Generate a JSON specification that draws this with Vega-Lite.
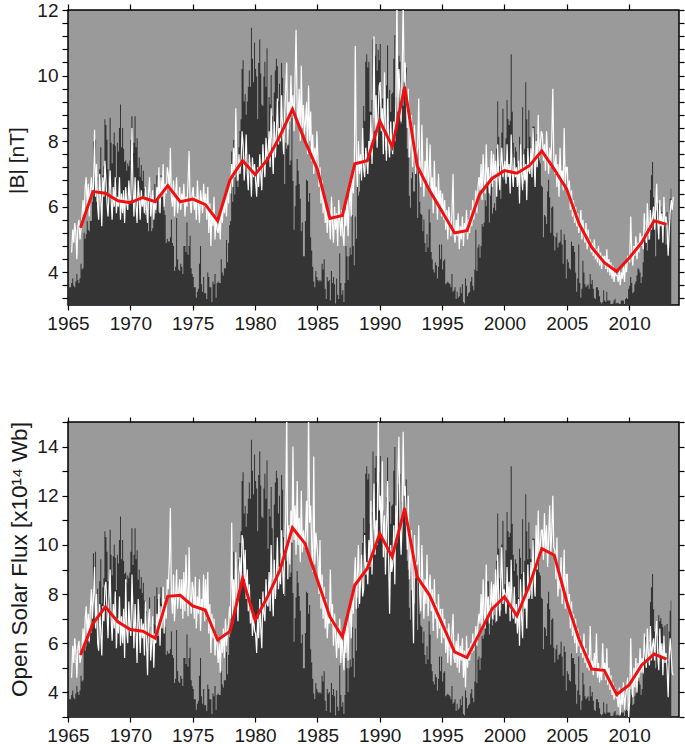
{
"$schema": "https://vega.github.io/schema/vega-lite/v6.json",
"background": "white",
"padding": {"left": 5, "top": 0, "right": 0, "bottom": 0},
"config": {
 "font": "Liberation Sans",
 "view": {"fill": "#9a9a9a", "stroke": "#000000", "strokeWidth": 1.5},
 "axis": {"domain": false, "grid": false, "labelOverlap": false, "labelBound": false, "labelFlush": false, "labelFont": "Liberation Sans", "labelFontSize": 19, "labelColor": "#1a1a1a", "titleFont": "Liberation Sans", "titleFontSize": 21, "titleFontWeight": "normal", "titleColor": "#1a1a1a", "tickColor": "#000000", "tickWidth": 1.2}
},
"datasets": {
"m": [
{"t":1965.04,"s":14},{"t":1965.13,"s":12},{"t":1965.21,"s":12},{"t":1965.29,"s":15,"b":4.6,"f":4.6},{"t":1965.38,"s":18,"b":5.3,"f":5.9},{"t":1965.46,"s":13,"b":4.9,"f":5.2},{"t":1965.54,"s":12,"b":5.5,"f":6.2},{"t":1965.63,"s":16,"b":5.2,"f":5.6},{"t":1965.71,"s":21,"b":4.4,"f":4.6},{"t":1965.79,"s":17,"b":5.4,"f":5.8},{"t":1965.88,"s":15,"b":5.6,"f":6.1},{"t":1965.96,"s":18,"b":5.0,"f":5.2},
{"t":1966.04,"s":28,"b":5.3,"f":5.4},{"t":1966.13,"s":24,"b":5.8,"f":5.9},{"t":1966.21,"s":25,"b":6.2,"f":6.6},{"t":1966.29,"s":49,"b":5.6,"f":5.8},{"t":1966.38,"s":45,"b":6.6,"f":7.0},{"t":1966.46,"s":48,"b":6.9,"f":7.5},{"t":1966.54,"s":57,"b":6.0,"f":6.3},{"t":1966.63,"s":51,"b":6.7,"f":7.2},{"t":1966.71,"s":50,"b":5.7,"f":6.1},{"t":1966.79,"s":57,"b":6.5,"f":7.4},{"t":1966.88,"s":57,"b":6.9,"f":8.2},{"t":1966.96,"s":70,"b":6.3,"f":7.0},
{"t":1967.04,"s":111,"b":6.6,"f":7.8},{"t":1967.13,"s":94,"b":8.35,"f":9.1},{"t":1967.21,"s":112,"b":6.3,"f":6.6},{"t":1967.29,"s":70,"b":7.3,"f":8.0},{"t":1967.38,"s":87,"b":6.0,"f":6.0},{"t":1967.46,"s":67,"b":5.6,"f":5.7},{"t":1967.54,"s":92,"b":7.0,"f":7.6},{"t":1967.63,"s":107,"b":6.2,"f":6.4},{"t":1967.71,"s":77,"b":5.4,"f":5.5},{"t":1967.79,"s":88,"b":6.9,"f":7.5},{"t":1967.88,"s":94,"b":6.3,"f":6.9},{"t":1967.96,"s":126,"b":7.4,"f":8.3},
{"t":1968.04,"s":122,"b":6.8,"f":8.5},{"t":1968.13,"s":112,"b":6.1,"f":7.3},{"t":1968.21,"s":92,"b":5.7,"f":6.2},{"t":1968.29,"s":81,"b":6.4,"f":7.9},{"t":1968.38,"s":127,"b":7.1,"f":9.0},{"t":1968.46,"s":110,"b":6.2,"f":7.0},{"t":1968.54,"s":96,"b":5.6,"f":6.1},{"t":1968.63,"s":109,"b":6.6,"f":7.6},{"t":1968.71,"s":117,"b":6.0,"f":6.6},{"t":1968.79,"s":108,"b":6.9,"f":8.1},{"t":1968.88,"s":86,"b":5.8,"f":5.8},{"t":1968.96,"s":110,"b":6.3,"f":7.0},
{"t":1969.04,"s":104,"b":6.0,"f":6.4},{"t":1969.13,"s":120,"b":6.9,"f":7.9},{"t":1969.21,"s":136,"b":5.6,"f":5.9},{"t":1969.29,"s":107,"b":6.4,"f":7.1},{"t":1969.38,"s":120,"b":5.8,"f":6.0},{"t":1969.46,"s":106,"b":6.5,"f":7.4},{"t":1969.54,"s":97,"b":5.5,"f":5.4},{"t":1969.63,"s":98,"b":6.6,"f":8.6},{"t":1969.71,"s":91,"b":6.1,"f":6.5},{"t":1969.79,"s":96,"b":5.9,"f":6.0},{"t":1969.88,"s":94,"b":6.8,"f":7.7},{"t":1969.96,"s":98,"b":6.2,"f":6.6},
{"t":1970.04,"s":112,"b":6.2,"f":6.3},{"t":1970.13,"s":128,"b":8.4,"f":8.8},{"t":1970.21,"s":103,"b":6.6,"f":7.3},{"t":1970.29,"s":110,"b":5.7,"f":5.8},{"t":1970.38,"s":128,"b":6.9,"f":7.6},{"t":1970.46,"s":107,"b":6.0,"f":6.5},{"t":1970.54,"s":113,"b":5.5,"f":5.2},{"t":1970.63,"s":93,"b":6.8,"f":7.8},{"t":1970.71,"s":100,"b":6.3,"f":6.9},{"t":1970.79,"s":87,"b":5.6,"f":5.6},{"t":1970.88,"s":95,"b":6.5,"f":7.0},{"t":1970.96,"s":84,"b":6.0,"f":6.2},
{"t":1971.04,"s":91,"b":6.3,"f":6.8},{"t":1971.13,"s":79,"b":5.8,"f":5.5},{"t":1971.21,"s":61,"b":6.6,"f":7.7},{"t":1971.29,"s":72,"b":6.0,"f":6.2},{"t":1971.38,"s":58,"b":5.5,"f":4.7},{"t":1971.46,"s":50,"b":6.4,"f":6.9},{"t":1971.54,"s":81,"b":6.9,"f":7.4},{"t":1971.63,"s":61,"b":5.7,"f":5.3},{"t":1971.71,"s":50,"b":6.1,"f":6.0},{"t":1971.79,"s":52,"b":6.5,"f":7.1},{"t":1971.88,"s":63,"b":5.6,"f":5.0},{"t":1971.96,"s":82,"b":6.2,"f":6.4},
{"t":1972.04,"s":62,"b":5.9,"f":6.0},{"t":1972.13,"s":88,"b":6.6,"f":7.2},{"t":1972.21,"s":80,"b":6.2,"f":6.3},{"t":1972.29,"s":63,"b":7.2,"f":8.0},{"t":1972.38,"s":81,"b":5.8,"f":5.9},{"t":1972.46,"s":88,"b":6.9,"f":7.5},{"t":1972.54,"s":77,"b":6.3,"f":6.6},{"t":1972.63,"s":77,"b":7.3,"f":8.3},{"t":1972.71,"s":64,"b":6.0,"f":6.4},{"t":1972.79,"s":61,"b":6.7,"f":7.8},{"t":1972.88,"s":42,"b":6.4,"f":7.0},{"t":1972.96,"s":45,"b":7.2,"f":8.6},
{"t":1973.04,"s":43,"b":7.0,"f":8.2},{"t":1973.13,"s":43,"b":6.5,"f":9.4},{"t":1973.21,"s":46,"b":7.8,"f":11.5},{"t":1973.29,"s":58,"b":6.3,"f":8.0},{"t":1973.38,"s":42,"b":6.0,"f":7.2},{"t":1973.46,"s":40,"b":6.8,"f":8.8},{"t":1973.54,"s":23,"b":5.7,"f":6.9},{"t":1973.63,"s":26,"b":6.4,"f":7.9},{"t":1973.71,"s":59,"b":6.9,"f":9.0},{"t":1973.79,"s":31,"b":5.8,"f":7.4},{"t":1973.88,"s":24,"b":6.2,"f":8.1},{"t":1973.96,"s":23,"b":6.6,"f":8.6},
{"t":1974.04,"s":28,"b":5.9,"f":7.4},{"t":1974.13,"s":26,"b":6.4,"f":8.6},{"t":1974.21,"s":21,"b":6.1,"f":7.0},{"t":1974.29,"s":40,"b":6.7,"f":8.9},{"t":1974.38,"s":40,"b":5.7,"f":7.3},{"t":1974.46,"s":36,"b":6.3,"f":9.6},{"t":1974.54,"s":56,"b":6.0,"f":8.2},{"t":1974.63,"s":34,"b":6.8,"f":7.1},{"t":1974.71,"s":40,"b":7.7,"f":9.9},{"t":1974.79,"s":47,"b":6.2,"f":8.0},{"t":1974.88,"s":25,"b":5.8,"f":7.2},{"t":1974.96,"s":21,"b":6.4,"f":8.5},
{"t":1975.04,"s":19,"b":6.6,"f":8.2},{"t":1975.13,"s":12,"b":5.9,"f":7.0},{"t":1975.21,"s":12,"b":6.3,"f":8.7},{"t":1975.29,"s":5,"b":5.6,"f":6.6},{"t":1975.38,"s":9,"b":6.8,"f":7.9},{"t":1975.46,"s":11,"b":6.1,"f":7.2},{"t":1975.54,"s":28,"b":5.5,"f":8.6},{"t":1975.63,"s":40,"b":6.5,"f":6.5},{"t":1975.71,"s":14,"b":6.2,"f":7.8},{"t":1975.79,"s":9,"b":5.8,"f":7.4},{"t":1975.88,"s":19,"b":6.7,"f":8.8},{"t":1975.96,"s":8,"b":6.0,"f":6.9},
{"t":1976.04,"s":8,"b":6.4,"f":8.6},{"t":1976.13,"s":4,"b":5.6,"f":7.0},{"t":1976.21,"s":22,"b":6.6,"f":8.9},{"t":1976.29,"s":19,"b":5.2,"f":6.4},{"t":1976.38,"s":12,"b":6.1,"f":7.6},{"t":1976.46,"s":12,"b":4.8,"f":5.6},{"t":1976.54,"s":2,"b":5.9,"f":7.2},{"t":1976.63,"s":16,"b":5.4,"f":6.2},{"t":1976.71,"s":14,"b":6.3,"f":7.0},{"t":1976.79,"s":21,"b":5.0,"f":5.5},{"t":1976.88,"s":5,"b":5.7,"f":6.4},{"t":1976.96,"s":15,"b":5.3,"f":6.0},
{"t":1977.04,"s":16,"b":5.2,"f":5.2},{"t":1977.13,"s":15,"b":5.6,"f":6.0},{"t":1977.21,"s":15,"b":5.0,"f":4.8},{"t":1977.29,"s":31,"b":6.0,"f":6.3},{"t":1977.38,"s":22,"b":5.5,"f":5.6},{"t":1977.46,"s":20,"b":6.2,"f":6.6},{"t":1977.54,"s":25,"b":5.8,"f":5.4},{"t":1977.63,"s":25,"b":6.4,"f":7.0},{"t":1977.71,"s":44,"b":5.7,"f":5.9},{"t":1977.79,"s":29,"b":6.6,"f":6.5},{"t":1977.88,"s":42,"b":6.1,"f":6.8},{"t":1977.96,"s":54,"b":6.9,"f":7.5},
{"t":1978.04,"s":57,"b":6.4,"f":7.0},{"t":1978.13,"s":104,"b":7.3,"f":10.9},{"t":1978.21,"s":70,"b":6.6,"f":6.8},{"t":1978.29,"s":112,"b":7.8,"f":8.6},{"t":1978.38,"s":75,"b":6.9,"f":7.4},{"t":1978.46,"s":95,"b":9.0,"f":9.7},{"t":1978.54,"s":84,"b":7.2,"f":7.9},{"t":1978.63,"s":80,"b":6.8,"f":6.9},{"t":1978.71,"s":107,"b":7.6,"f":8.8},{"t":1978.79,"s":118,"b":7.0,"f":9.5},{"t":1978.88,"s":126,"b":7.4,"f":8.4},{"t":1978.96,"s":160,"b":8.3,"f":10.4},
{"t":1979.04,"s":166,"b":7.9,"f":10.2},{"t":1979.13,"s":138,"b":6.8,"f":8.6},{"t":1979.21,"s":143,"b":7.4,"f":9.8},{"t":1979.29,"s":129,"b":8.2,"f":7.8},{"t":1979.38,"s":138,"b":7.0,"f":9.0},{"t":1979.46,"s":148,"b":6.5,"f":7.3},{"t":1979.54,"s":159,"b":7.6,"f":8.4},{"t":1979.63,"s":148,"b":7.1,"f":6.8},{"t":1979.71,"s":188,"b":6.3,"f":7.6},{"t":1979.79,"s":167,"b":7.5,"f":6.3},{"t":1979.88,"s":151,"b":6.9,"f":7.2},{"t":1979.96,"s":178,"b":7.3,"f":6.5},
{"t":1980.04,"s":160,"b":6.8,"f":6.4},{"t":1980.13,"s":155,"b":6.3,"f":5.6},{"t":1980.21,"s":126,"b":7.2,"f":7.0},{"t":1980.29,"s":164,"b":6.6,"f":6.2},{"t":1980.38,"s":180,"b":7.6,"f":7.8},{"t":1980.46,"s":157,"b":7.0,"f":6.6},{"t":1980.54,"s":136,"b":6.5,"f":5.8},{"t":1980.63,"s":135,"b":7.9,"f":8.1},{"t":1980.71,"s":155,"b":7.3,"f":7.2},{"t":1980.79,"s":165,"b":6.9,"f":6.9},{"t":1980.88,"s":148,"b":8.1,"f":8.6},{"t":1980.96,"s":174,"b":7.5,"f":7.6},
{"t":1981.04,"s":114,"b":7.6,"f":7.5},{"t":1981.13,"s":141,"b":8.3,"f":8.9},{"t":1981.21,"s":136,"b":7.2,"f":7.3},{"t":1981.29,"s":156,"b":9.0,"f":10.0},{"t":1981.38,"s":128,"b":7.8,"f":8.1},{"t":1981.46,"s":90,"b":7.0,"f":7.1},{"t":1981.54,"s":144,"b":8.6,"f":9.4},{"t":1981.63,"s":159,"b":7.5,"f":7.8},{"t":1981.71,"s":167,"b":8.2,"f":8.6},{"t":1981.79,"s":162,"b":9.3,"f":10.3},{"t":1981.88,"s":138,"b":7.9,"f":8.2},{"t":1981.96,"s":150,"b":8.4,"f":9.1},
{"t":1982.04,"s":111,"b":8.0,"f":8.4},{"t":1982.13,"s":164,"b":9.4,"f":10.6},{"t":1982.21,"s":154,"b":8.3,"f":9.1},{"t":1982.29,"s":122,"b":7.6,"f":8.0},{"t":1982.38,"s":82,"b":8.8,"f":9.9},{"t":1982.46,"s":110,"b":9.6,"f":11.2},{"t":1982.54,"s":106,"b":10.4,"f":15.5},{"t":1982.63,"s":108,"b":7.9,"f":8.6},{"t":1982.71,"s":119,"b":9.2,"f":10.8},{"t":1982.79,"s":95,"b":8.6,"f":9.2},{"t":1982.88,"s":98,"b":10.0,"f":11.4},{"t":1982.96,"s":127,"b":8.8,"f":10.1},
{"t":1983.04,"s":84,"b":9.4,"f":14.0},{"t":1983.13,"s":51,"b":8.3,"f":10.2},{"t":1983.21,"s":67,"b":9.9,"f":11.6},{"t":1983.29,"s":81,"b":11.4,"f":9.6},{"t":1983.38,"s":99,"b":8.9,"f":12.6},{"t":1983.46,"s":91,"b":8.6,"f":10.0},{"t":1983.54,"s":82,"b":9.6,"f":11.1},{"t":1983.63,"s":72,"b":8.0,"f":9.3},{"t":1983.71,"s":50,"b":10.3,"f":12.2},{"t":1983.79,"s":56,"b":8.4,"f":9.7},{"t":1983.88,"s":33,"b":9.1,"f":10.6},{"t":1983.96,"s":33,"b":8.2,"f":9.9},
{"t":1984.04,"s":57,"b":8.6,"f":10.4},{"t":1984.13,"s":85,"b":9.2,"f":11.8},{"t":1984.21,"s":84,"b":7.6,"f":9.6},{"t":1984.29,"s":70,"b":9.7,"f":15.5},{"t":1984.38,"s":76,"b":8.0,"f":10.9},{"t":1984.46,"s":46,"b":8.9,"f":11.6},{"t":1984.54,"s":37,"b":7.4,"f":10.0},{"t":1984.63,"s":26,"b":8.2,"f":8.9},{"t":1984.71,"s":16,"b":7.0,"f":13.6},{"t":1984.79,"s":12,"b":7.8,"f":9.2},{"t":1984.88,"s":23,"b":7.2,"f":10.5},{"t":1984.96,"s":19,"b":8.3,"f":10.0},
{"t":1985.04,"s":17,"b":7.5,"f":9.4},{"t":1985.13,"s":16,"b":6.6,"f":8.0},{"t":1985.21,"s":17,"b":7.2,"f":10.2},{"t":1985.29,"s":16,"b":6.1,"f":7.4},{"t":1985.38,"s":28,"b":6.8,"f":8.8},{"t":1985.46,"s":24,"b":5.8,"f":7.0},{"t":1985.54,"s":31,"b":6.4,"f":8.3},{"t":1985.63,"s":11,"b":5.5,"f":6.6},{"t":1985.71,"s":4,"b":6.0,"f":7.8},{"t":1985.79,"s":19,"b":5.2,"f":6.2},{"t":1985.88,"s":16,"b":5.9,"f":7.2},{"t":1985.96,"s":17,"b":5.6,"f":6.8},
{"t":1986.04,"s":3,"b":5.0,"f":9.0},{"t":1986.13,"s":23,"b":6.3,"f":6.8},{"t":1986.21,"s":15,"b":5.5,"f":7.6},{"t":1986.29,"s":19,"b":4.9,"f":5.9},{"t":1986.38,"s":14,"b":6.0,"f":7.2},{"t":1986.46,"s":1,"b":5.3,"f":6.3},{"t":1986.54,"s":18,"b":5.8,"f":5.4},{"t":1986.63,"s":7,"b":4.8,"f":6.7},{"t":1986.71,"s":4,"b":6.2,"f":5.8},{"t":1986.79,"s":35,"b":5.6,"f":7.0},{"t":1986.88,"s":15,"b":5.1,"f":5.2},{"t":1986.96,"s":7,"b":5.9,"f":6.4},
{"t":1987.04,"s":10,"b":5.2,"f":5.7},{"t":1987.13,"s":2,"b":4.8,"f":4.9},{"t":1987.21,"s":15,"b":5.9,"f":6.5},{"t":1987.29,"s":40,"b":5.4,"f":5.6},{"t":1987.38,"s":33,"b":6.3,"f":7.1},{"t":1987.46,"s":17,"b":5.1,"f":5.3},{"t":1987.54,"s":33,"b":6.0,"f":6.8},{"t":1987.63,"s":39,"b":6.6,"f":7.6},{"t":1987.71,"s":34,"b":5.7,"f":6.2},{"t":1987.79,"s":61,"b":7.0,"f":8.0},{"t":1987.88,"s":40,"b":6.4,"f":7.2},{"t":1987.96,"s":27,"b":7.2,"f":8.6},
{"t":1988.04,"s":60,"b":10.9,"f":9.5},{"t":1988.13,"s":45,"b":7.3,"f":7.4},{"t":1988.21,"s":81,"b":6.6,"f":8.8},{"t":1988.29,"s":74,"b":8.0,"f":10.0},{"t":1988.38,"s":77,"b":7.0,"f":7.6},{"t":1988.46,"s":97,"b":7.6,"f":8.5},{"t":1988.54,"s":99,"b":6.8,"f":9.6},{"t":1988.63,"s":118,"b":8.4,"f":7.9},{"t":1988.71,"s":135,"b":7.2,"f":8.2},{"t":1988.79,"s":125,"b":6.9,"f":10.4},{"t":1988.88,"s":165,"b":7.8,"f":8.8},{"t":1988.96,"s":170,"b":7.4,"f":9.3},
{"t":1989.04,"s":161,"b":7.0,"f":8.4},{"t":1989.13,"s":165,"b":8.0,"f":10.2},{"t":1989.21,"s":131,"b":7.6,"f":9.1},{"t":1989.29,"s":131,"b":8.8,"f":11.8},{"t":1989.38,"s":139,"b":7.3,"f":8.8},{"t":1989.46,"s":180,"b":8.5,"f":10.6},{"t":1989.54,"s":127,"b":11.2,"f":12.5},{"t":1989.63,"s":169,"b":8.3,"f":9.6},{"t":1989.71,"s":177,"b":9.4,"f":11.0},{"t":1989.79,"s":159,"b":7.8,"f":10.0},{"t":1989.88,"s":173,"b":8.9,"f":15.2},{"t":1989.96,"s":166,"b":9.7,"f":11.4},
{"t":1990.04,"s":177,"b":9.8,"f":12.0},{"t":1990.13,"s":131,"b":8.3,"f":10.4},{"t":1990.21,"s":140,"b":9.0,"f":13.4},{"t":1990.29,"s":140,"b":7.6,"f":9.5},{"t":1990.38,"s":132,"b":10.1,"f":11.2},{"t":1990.46,"s":105,"b":8.2,"f":8.8},{"t":1990.54,"s":149,"b":7.4,"f":10.6},{"t":1990.63,"s":176,"b":9.3,"f":12.6},{"t":1990.71,"s":125,"b":8.0,"f":9.4},{"t":1990.79,"s":146,"b":7.5,"f":7.2},{"t":1990.88,"s":131,"b":8.6,"f":10.0},{"t":1990.96,"s":143,"b":7.9,"f":8.9},
{"t":1991.04,"s":144,"b":7.6,"f":9.2},{"t":1991.13,"s":167,"b":8.6,"f":10.8},{"t":1991.21,"s":183,"b":8.0,"f":8.4},{"t":1991.29,"s":141,"b":9.1,"f":11.6},{"t":1991.38,"s":122,"b":12.5,"f":10.1},{"t":1991.46,"s":158,"b":8.9,"f":12.8},{"t":1991.54,"s":169,"b":10.2,"f":14.4},{"t":1991.63,"s":165,"b":9.4,"f":11.0},{"t":1991.71,"s":123,"b":8.6,"f":9.6},{"t":1991.79,"s":146,"b":9.9,"f":10.8},{"t":1991.88,"s":135,"b":12.3,"f":14.6},{"t":1991.96,"s":142,"b":9.8,"f":12.0},
{"t":1992.04,"s":150,"b":10.4,"f":12.4},{"t":1992.13,"s":161,"b":9.3,"f":11.0},{"t":1992.21,"s":106,"b":8.4,"f":9.8},{"t":1992.29,"s":100,"b":9.6,"f":12.0},{"t":1992.38,"s":74,"b":7.5,"f":8.6},{"t":1992.46,"s":66,"b":8.0,"f":9.5},{"t":1992.54,"s":86,"b":8.8,"f":10.6},{"t":1992.63,"s":90,"b":7.2,"f":8.0},{"t":1992.71,"s":77,"b":7.8,"f":6.0},{"t":1992.79,"s":77,"b":8.5,"f":10.4},{"t":1992.88,"s":94,"b":7.0,"f":8.8},{"t":1992.96,"s":100,"b":7.6,"f":9.3},
{"t":1993.04,"s":59,"b":7.8,"f":9.2},{"t":1993.13,"s":91,"b":9.3,"f":10.8},{"t":1993.21,"s":70,"b":7.0,"f":8.0},{"t":1993.29,"s":62,"b":6.6,"f":7.3},{"t":1993.38,"s":61,"b":8.5,"f":10.0},{"t":1993.46,"s":50,"b":7.2,"f":8.4},{"t":1993.54,"s":58,"b":6.3,"f":7.0},{"t":1993.63,"s":42,"b":7.4,"f":8.6},{"t":1993.71,"s":36,"b":6.8,"f":7.6},{"t":1993.79,"s":48,"b":8.1,"f":9.6},{"t":1993.88,"s":39,"b":6.5,"f":7.1},{"t":1993.96,"s":65,"b":7.0,"f":8.2},
{"t":1994.04,"s":56,"b":7.9,"f":8.8},{"t":1994.13,"s":36,"b":6.4,"f":7.3},{"t":1994.21,"s":31,"b":6.9,"f":8.2},{"t":1994.29,"s":24,"b":5.8,"f":6.5},{"t":1994.38,"s":22,"b":7.4,"f":8.6},{"t":1994.46,"s":29,"b":6.2,"f":7.0},{"t":1994.54,"s":27,"b":6.6,"f":7.6},{"t":1994.63,"s":18,"b":5.6,"f":6.2},{"t":1994.71,"s":26,"b":7.0,"f":8.0},{"t":1994.79,"s":41,"b":6.0,"f":6.6},{"t":1994.88,"s":31,"b":6.5,"f":7.4},{"t":1994.96,"s":41,"b":5.7,"f":6.0},
{"t":1995.04,"s":24,"b":6.4,"f":7.4},{"t":1995.13,"s":30,"b":5.6,"f":6.2},{"t":1995.21,"s":31,"b":6.2,"f":7.0},{"t":1995.29,"s":14,"b":5.3,"f":5.6},{"t":1995.38,"s":15,"b":5.9,"f":6.6},{"t":1995.46,"s":16,"b":5.0,"f":5.2},{"t":1995.54,"s":15,"b":6.0,"f":6.8},{"t":1995.63,"s":14,"b":5.5,"f":5.9},{"t":1995.71,"s":12,"b":5.1,"f":5.1},{"t":1995.79,"s":21,"b":5.8,"f":6.4},{"t":1995.88,"s":9,"b":7.0,"f":7.2},{"t":1995.96,"s":10,"b":5.2,"f":5.4},
{"t":1996.04,"s":12,"b":4.9,"f":5.2},{"t":1996.13,"s":4,"b":5.6,"f":6.1},{"t":1996.21,"s":9,"b":5.1,"f":5.0},{"t":1996.29,"s":5,"b":5.8,"f":6.4},{"t":1996.38,"s":6,"b":4.7,"f":4.8},{"t":1996.46,"s":12,"b":5.4,"f":5.9},{"t":1996.54,"s":8,"b":5.0,"f":5.3},{"t":1996.63,"s":14,"b":5.7,"f":6.2},{"t":1996.71,"s":2,"b":4.8,"f":4.6},{"t":1996.79,"s":1,"b":5.5,"f":5.7},{"t":1996.88,"s":18,"b":5.2,"f":4.2},{"t":1996.96,"s":13,"b":5.9,"f":6.3},
{"t":1997.04,"s":6,"b":5.0,"f":5.0},{"t":1997.13,"s":8,"b":5.6,"f":5.8},{"t":1997.21,"s":9,"b":5.2,"f":5.3},{"t":1997.29,"s":16,"b":5.9,"f":6.0},{"t":1997.38,"s":19,"b":5.4,"f":5.6},{"t":1997.46,"s":13,"b":6.2,"f":6.4},{"t":1997.54,"s":10,"b":5.6,"f":5.7},{"t":1997.63,"s":24,"b":6.0,"f":6.1},{"t":1997.71,"s":51,"b":6.5,"f":6.7},{"t":1997.79,"s":23,"b":5.8,"f":5.9},{"t":1997.88,"s":39,"b":6.6,"f":6.8},{"t":1997.96,"s":41,"b":6.9,"f":7.2},
{"t":1998.04,"s":32,"b":6.5,"f":6.8},{"t":1998.13,"s":40,"b":7.3,"f":8.0},{"t":1998.21,"s":55,"b":6.2,"f":6.5},{"t":1998.29,"s":53,"b":7.6,"f":8.6},{"t":1998.38,"s":56,"b":6.8,"f":7.2},{"t":1998.46,"s":71,"b":6.4,"f":6.6},{"t":1998.54,"s":67,"b":7.9,"f":9.2},{"t":1998.63,"s":92,"b":6.7,"f":7.0},{"t":1998.71,"s":92,"b":7.2,"f":7.9},{"t":1998.79,"s":56,"b":6.4,"f":6.8},{"t":1998.88,"s":74,"b":7.0,"f":7.6},{"t":1998.96,"s":82,"b":7.7,"f":8.5},
{"t":1999.04,"s":62,"b":6.6,"f":7.0},{"t":1999.13,"s":66,"b":7.6,"f":8.4},{"t":1999.21,"s":69,"b":6.8,"f":7.4},{"t":1999.29,"s":64,"b":7.4,"f":9.0},{"t":1999.38,"s":106,"b":6.3,"f":6.9},{"t":1999.46,"s":138,"b":7.9,"f":9.6},{"t":1999.54,"s":114,"b":7.0,"f":7.8},{"t":1999.63,"s":94,"b":6.5,"f":7.1},{"t":1999.71,"s":72,"b":7.3,"f":8.6},{"t":1999.79,"s":117,"b":7.8,"f":9.9},{"t":1999.88,"s":133,"b":6.9,"f":7.6},{"t":1999.96,"s":85,"b":7.2,"f":8.2},
{"t":2000.04,"s":90,"b":7.4,"f":8.0},{"t":2000.13,"s":113,"b":6.7,"f":7.2},{"t":2000.21,"s":139,"b":7.9,"f":9.1},{"t":2000.29,"s":126,"b":6.9,"f":7.6},{"t":2000.38,"s":122,"b":7.3,"f":8.5},{"t":2000.46,"s":125,"b":6.4,"f":6.9},{"t":2000.54,"s":170,"b":8.2,"f":9.4},{"t":2000.63,"s":131,"b":7.0,"f":7.4},{"t":2000.71,"s":110,"b":6.6,"f":7.0},{"t":2000.79,"s":99,"b":7.5,"f":8.3},{"t":2000.88,"s":107,"b":6.9,"f":6.8},{"t":2000.96,"s":104,"b":7.2,"f":7.6},
{"t":2001.04,"s":96,"b":6.6,"f":6.4},{"t":2001.13,"s":81,"b":7.4,"f":7.8},{"t":2001.21,"s":114,"b":6.1,"f":5.9},{"t":2001.29,"s":108,"b":7.9,"f":8.6},{"t":2001.38,"s":97,"b":7.0,"f":7.0},{"t":2001.46,"s":134,"b":6.5,"f":6.2},{"t":2001.54,"s":82,"b":7.6,"f":8.9},{"t":2001.63,"s":106,"b":6.8,"f":7.4},{"t":2001.71,"s":151,"b":7.3,"f":8.0},{"t":2001.79,"s":126,"b":6.2,"f":6.6},{"t":2001.88,"s":107,"b":7.8,"f":9.2},{"t":2001.96,"s":132,"b":7.1,"f":7.8},
{"t":2002.04,"s":114,"b":7.0,"f":8.0},{"t":2002.13,"s":107,"b":7.8,"f":9.3},{"t":2002.21,"s":98,"b":6.9,"f":7.8},{"t":2002.29,"s":121,"b":8.4,"f":10.2},{"t":2002.38,"s":121,"b":7.4,"f":8.6},{"t":2002.46,"s":88,"b":6.6,"f":7.9},{"t":2002.54,"s":100,"b":8.0,"f":10.8},{"t":2002.63,"s":116,"b":7.2,"f":9.0},{"t":2002.71,"s":110,"b":8.8,"f":11.4},{"t":2002.79,"s":98,"b":7.5,"f":9.4},{"t":2002.88,"s":96,"b":7.9,"f":10.0},{"t":2002.96,"s":81,"b":8.3,"f":10.6},
{"t":2003.04,"s":80,"b":8.2,"f":10.6},{"t":2003.13,"s":46,"b":7.4,"f":9.4},{"t":2003.21,"s":61,"b":7.9,"f":11.3},{"t":2003.29,"s":60,"b":7.1,"f":9.8},{"t":2003.38,"s":55,"b":8.3,"f":10.8},{"t":2003.46,"s":77,"b":7.6,"f":9.1},{"t":2003.54,"s":85,"b":7.0,"f":10.2},{"t":2003.63,"s":73,"b":7.8,"f":11.6},{"t":2003.71,"s":49,"b":7.2,"f":9.6},{"t":2003.79,"s":66,"b":8.0,"f":10.4},{"t":2003.88,"s":67,"b":9.6,"f":12.0},{"t":2003.96,"s":47,"b":7.5,"f":9.9},
{"t":2004.04,"s":37,"b":7.0,"f":9.8},{"t":2004.13,"s":46,"b":7.6,"f":8.6},{"t":2004.21,"s":49,"b":6.6,"f":10.3},{"t":2004.29,"s":39,"b":7.3,"f":7.9},{"t":2004.38,"s":42,"b":6.3,"f":9.0},{"t":2004.46,"s":43,"b":7.8,"f":8.2},{"t":2004.54,"s":51,"b":6.8,"f":9.5},{"t":2004.63,"s":41,"b":7.1,"f":7.6},{"t":2004.71,"s":28,"b":6.5,"f":8.4},{"t":2004.79,"s":48,"b":8.4,"f":9.8},{"t":2004.88,"s":44,"b":6.7,"f":7.4},{"t":2004.96,"s":18,"b":7.2,"f":8.8},
{"t":2005.04,"s":31,"b":7.2,"f":8.8},{"t":2005.13,"s":29,"b":6.3,"f":7.3},{"t":2005.21,"s":25,"b":6.8,"f":8.0},{"t":2005.29,"s":24,"b":5.9,"f":6.6},{"t":2005.38,"s":43,"b":6.5,"f":7.7},{"t":2005.46,"s":40,"b":5.7,"f":6.3},{"t":2005.54,"s":40,"b":6.2,"f":7.2},{"t":2005.63,"s":36,"b":5.5,"f":6.0},{"t":2005.71,"s":22,"b":6.0,"f":7.0},{"t":2005.79,"s":9,"b":5.4,"f":5.6},{"t":2005.88,"s":18,"b":5.8,"f":6.6},{"t":2005.96,"s":41,"b":5.2,"f":5.9},
{"t":2006.04,"s":15,"b":5.4,"f":6.3},{"t":2006.13,"s":5,"b":5.9,"f":5.6},{"t":2006.21,"s":11,"b":5.0,"f":6.0},{"t":2006.29,"s":30,"b":5.6,"f":5.4},{"t":2006.38,"s":22,"b":5.2,"f":6.4},{"t":2006.46,"s":14,"b":4.9,"f":5.2},{"t":2006.54,"s":12,"b":5.5,"f":5.8},{"t":2006.63,"s":13,"b":4.7,"f":5.0},{"t":2006.71,"s":14,"b":5.3,"f":5.5},{"t":2006.79,"s":11,"b":4.8,"f":4.9},{"t":2006.88,"s":21,"b":5.0,"f":6.7},{"t":2006.96,"s":14,"b":4.6,"f":5.1},
{"t":2007.04,"s":17,"b":4.9,"f":5.3},{"t":2007.13,"s":11,"b":4.5,"f":4.7},{"t":2007.21,"s":5,"b":5.0,"f":5.6},{"t":2007.29,"s":4,"b":4.4,"f":4.9},{"t":2007.38,"s":12,"b":4.7,"f":6.4},{"t":2007.46,"s":12,"b":4.3,"f":4.6},{"t":2007.54,"s":10,"b":4.8,"f":5.2},{"t":2007.63,"s":6,"b":4.2,"f":4.4},{"t":2007.71,"s":2,"b":4.6,"f":5.0},{"t":2007.79,"s":1,"b":4.1,"f":4.5},{"t":2007.88,"s":2,"b":4.5,"f":6.0},{"t":2007.96,"s":10,"b":4.4,"f":4.8},
{"t":2008.04,"s":3,"b":4.5,"f":5.2},{"t":2008.13,"s":2,"b":4.1,"f":4.5},{"t":2008.21,"s":9,"b":4.7,"f":5.8},{"t":2008.29,"s":3,"b":4.0,"f":4.3},{"t":2008.38,"s":3,"b":4.4,"f":5.0},{"t":2008.46,"s":3,"b":3.9,"f":4.1},{"t":2008.54,"s":0.5,"b":4.3,"f":4.7},{"t":2008.63,"s":0.5,"b":3.8,"f":3.9},{"t":2008.71,"s":1,"b":4.2,"f":4.4},{"t":2008.79,"s":3,"b":3.7,"f":3.7},{"t":2008.88,"s":4,"b":4.0,"f":4.2},{"t":2008.96,"s":1,"b":3.9,"f":3.8},
{"t":2009.04,"s":1.5,"b":3.9,"f":3.8},{"t":2009.13,"s":1.4,"b":3.7,"f":3.4},{"t":2009.21,"s":0.7,"b":4.1,"f":4.2},{"t":2009.29,"s":0.8,"b":3.6,"f":3.1},{"t":2009.38,"s":3,"b":4.0,"f":4.0},{"t":2009.46,"s":3,"b":3.8,"f":3.5},{"t":2009.54,"s":3,"b":4.2,"f":4.4},{"t":2009.63,"s":0,"b":3.7,"f":3.3},{"t":2009.71,"s":4,"b":4.3,"f":3.8},{"t":2009.79,"s":5,"b":4.0,"f":4.1},{"t":2009.88,"s":4,"b":4.5,"f":4.6},{"t":2009.96,"s":11,"b":4.4,"f":3.0},
{"t":2010.04,"s":13,"b":4.3,"f":3.6},{"t":2010.13,"s":19,"b":5.7,"f":6.2},{"t":2010.21,"s":15,"b":4.6,"f":4.4},{"t":2010.29,"s":8,"b":4.2,"f":3.8},{"t":2010.38,"s":9,"b":4.8,"f":5.0},{"t":2010.46,"s":14,"b":4.5,"f":4.2},{"t":2010.54,"s":16,"b":5.1,"f":5.4},{"t":2010.63,"s":20,"b":4.4,"f":4.0},{"t":2010.71,"s":25,"b":4.9,"f":5.2},{"t":2010.79,"s":24,"b":4.6,"f":4.6},{"t":2010.88,"s":22,"b":5.2,"f":5.8},{"t":2010.96,"s":15,"b":4.8,"f":4.8},
{"t":2011.04,"s":19,"b":5.1,"f":5.4},{"t":2011.13,"s":29,"b":4.7,"f":4.8},{"t":2011.21,"s":56,"b":5.8,"f":6.4},{"t":2011.29,"s":54,"b":5.2,"f":5.5},{"t":2011.38,"s":42,"b":4.9,"f":5.0},{"t":2011.46,"s":37,"b":6.1,"f":6.6},{"t":2011.54,"s":44,"b":5.4,"f":5.6},{"t":2011.63,"s":51,"b":5.0,"f":5.1},{"t":2011.71,"s":78,"b":5.9,"f":6.7},{"t":2011.79,"s":88,"b":5.3,"f":5.3},{"t":2011.88,"s":97,"b":5.7,"f":5.9},{"t":2011.96,"s":73,"b":6.0,"f":6.2},
{"t":2012.04,"s":58,"b":5.3,"f":5.3},{"t":2012.13,"s":33,"b":6.0,"f":6.4},{"t":2012.21,"s":64,"b":6.7,"f":6.9},{"t":2012.29,"s":55,"b":5.6,"f":5.5},{"t":2012.38,"s":69,"b":5.0,"f":4.9},{"t":2012.46,"s":65,"b":6.2,"f":6.6},{"t":2012.54,"s":67,"b":5.4,"f":5.4},{"t":2012.63,"s":63,"b":5.8,"f":6.0},{"t":2012.71,"s":61,"b":4.9,"f":4.7},{"t":2012.79,"s":53,"b":6.3,"f":6.3},{"t":2012.88,"s":62,"b":5.5,"f":5.2},{"t":2012.96,"s":41,"b":5.7,"f":5.6},
{"t":2013.04,"s":63,"b":5.4,"f":5.0},{"t":2013.13,"s":38,"b":4.5,"f":3.8},{"t":2013.21,"s":58,"b":5.2,"f":5.4},{"t":2013.29,"s":72,"b":5.8,"f":6.2},{"t":2013.38,"s":79,"b":6.2,"f":5.5},{"t":2013.46,"b":5.9,"f":4.8},{"t":2013.54,"b":6.3,"f":4.7}
],
"a": [
{"yr":1966,"b":5.36,"f":5.52},{"yr":1967,"b":6.46,"f":6.8},{"yr":1968,"b":6.41,"f":7.48},{"yr":1969,"b":6.18,"f":6.87},{"yr":1970,"b":6.12,"f":6.56},{"yr":1971,"b":6.28,"f":6.49},{"yr":1972,"b":6.15,"f":6.2},{"yr":1973,"b":6.64,"f":7.91},{"yr":1974,"b":6.15,"f":7.95},{"yr":1975,"b":6.23,"f":7.52},{"yr":1976,"b":6.07,"f":7.35},{"yr":1977,"b":5.57,"f":6.13},{"yr":1978,"b":6.83,"f":6.49},{"yr":1979,"b":7.4,"f":8.63},{"yr":1980,"b":6.98,"f":6.94},{"yr":1981,"b":7.44,"f":7.89},{"yr":1982,"b":8.16,"f":8.97},{"yr":1983,"b":8.97,"f":10.7},{"yr":1984,"b":8.0,"f":10.06},{"yr":1985,"b":7.14,"f":8.57},{"yr":1986,"b":5.64,"f":7.08},{"yr":1987,"b":5.73,"f":6.26},{"yr":1988,"b":7.31,"f":8.36},{"yr":1989,"b":7.4,"f":9.04},{"yr":1990,"b":8.62,"f":10.46},{"yr":1991,"b":7.83,"f":9.52},{"yr":1992,"b":9.66,"f":11.48},{"yr":1993,"b":7.25,"f":8.7},{"yr":1994,"b":6.49,"f":7.95},{"yr":1995,"b":5.85,"f":6.8},{"yr":1996,"b":5.2,"f":5.65},{"yr":1997,"b":5.27,"f":5.42},{"yr":1998,"b":6.37,"f":6.4},{"yr":1999,"b":6.86,"f":7.39},{"yr":2000,"b":7.1,"f":7.89},{"yr":2001,"b":7.02,"f":7.12},{"yr":2002,"b":7.25,"f":8.36},{"yr":2003,"b":7.7,"f":9.85},{"yr":2004,"b":7.14,"f":9.58},{"yr":2005,"b":6.53,"f":7.69},{"yr":2006,"b":5.47,"f":6.13},{"yr":2007,"b":4.76,"f":4.95},{"yr":2008,"b":4.3,"f":4.9},{"yr":2009,"b":4.02,"f":3.92},{"yr":2010,"b":4.43,"f":4.3},{"yr":2011,"b":4.9,"f":5.11},{"yr":2012,"b":5.57,"f":5.56},{"yr":2013,"b":5.46,"f":5.35}
]
},
"vconcat": [
{
 "width": 611, "height": 295,
 "layer": [
  {"data": {"name": "m"},
   "mark": {"type": "area", "interpolate": "step", "color": "#343434", "clip": true},
   "encoding": {
    "x": {"field": "t", "type": "quantitative", "scale": {"domain": [1965, 2014], "nice": false, "zero": false}, "axis": null},
    "y": {"field": "s", "type": "quantitative", "scale": {"domain": [0, 200], "nice": false}, "axis": null}}},
  {"data": {"name": "m"},
   "mark": {"type": "line", "color": "#ffffff", "strokeWidth": 1.2, "clip": true},
   "encoding": {
    "x": {"field": "t", "type": "quantitative", "scale": {"domain": [1965, 2014], "nice": false, "zero": false},
          "axis": {"orient": "bottom", "values": [1965,1970,1975,1980,1985,1990,1995,2000,2005,2010], "format": "d", "labelOverlap": false, "tickSize": 5, "labelPadding": 4, "title": null}},
    "y": {"field": "b", "type": "quantitative", "scale": {"domain": [3, 12], "nice": false, "zero": false},
          "axis": {"orient": "left", "values": [3.2,3.6,4,4.4,4.8,5.2,5.6,6,6.4,6.8,7.2,7.6,8,8.4,8.8,9.2,9.6,10,10.4,10.8,11.2,11.6,12], "labelOverlap": false, "labelExpr": "(abs(datum.value - 2 * round(datum.value / 2)) < 0.01) ? format(datum.value, 'd') : ''", "tickSize": 6, "labelPadding": 4, "title": "|B| [nT]", "titleX": -51, "titleY": 150, "titleAngle": -90, "titleBaseline": "middle", "titleAlign": "center"}}}},
  {"data": {"name": "a"},
   "mark": {"type": "line", "color": "#f01010", "strokeWidth": 3, "clip": true},
   "encoding": {
    "x": {"field": "yr", "type": "quantitative", "scale": {"domain": [1965, 2014], "nice": false, "zero": false},
          "axis": {"orient": "top", "values": [1965,1970,1975,1980,1985,1990,1995,2000,2005,2010], "labels": false, "tickSize": 6, "title": null}},
    "y": {"field": "b", "type": "quantitative", "scale": {"domain": [3, 12], "nice": false, "zero": false},
          "axis": {"orient": "right", "values": [3.2,3.6,4,4.4,4.8,5.2,5.6,6,6.4,6.8,7.2,7.6,8,8.4,8.8,9.2,9.6,10,10.4,10.8,11.2,11.6,12], "labels": false, "tickSize": 5, "title": null}}}}
 ],
 "resolve": {"scale": {"x": "independent", "y": "independent"}, "axis": {"x": "independent", "y": "independent"}}
},
{
 "width": 611, "height": 295,
 "layer": [
  {"data": {"name": "m"},
   "mark": {"type": "area", "interpolate": "step", "color": "#343434", "clip": true},
   "encoding": {
    "x": {"field": "t", "type": "quantitative", "scale": {"domain": [1965, 2014], "nice": false, "zero": false}, "axis": null},
    "y": {"field": "s", "type": "quantitative", "scale": {"domain": [0, 200], "nice": false}, "axis": null}}},
  {"data": {"name": "m"},
   "mark": {"type": "line", "color": "#ffffff", "strokeWidth": 1.2, "clip": true},
   "encoding": {
    "x": {"field": "t", "type": "quantitative", "scale": {"domain": [1965, 2014], "nice": false, "zero": false},
          "axis": {"orient": "bottom", "values": [1965,1970,1975,1980,1985,1990,1995,2000,2005,2010], "format": "d", "labelOverlap": false, "tickSize": 5, "labelPadding": 4, "title": null}},
    "y": {"field": "f", "type": "quantitative", "scale": {"domain": [3, 15], "nice": false, "zero": false},
          "axis": {"orient": "left", "values": [3,4,5,6,7,8,9,10,11,12,13,14,15], "labelOverlap": false, "labelExpr": "(abs(datum.value - 2 * round(datum.value / 2)) < 0.01 && datum.value > 3.5 && datum.value < 14.5) ? format(datum.value, 'd') : ''", "tickSize": 6, "labelPadding": 4, "title": "Open Solar Flux [x10¹⁴ Wb]", "titleFontSize": 22.5, "titleX": -49, "titleY": 137, "titleAngle": -90, "titleBaseline": "middle", "titleAlign": "center"}}}},
  {"data": {"name": "a"},
   "mark": {"type": "line", "color": "#f01010", "strokeWidth": 3, "clip": true},
   "encoding": {
    "x": {"field": "yr", "type": "quantitative", "scale": {"domain": [1965, 2014], "nice": false, "zero": false},
          "axis": {"orient": "top", "values": [1965,1970,1975,1980,1985,1990,1995,2000,2005,2010], "labels": false, "tickSize": 5, "title": null}},
    "y": {"field": "f", "type": "quantitative", "scale": {"domain": [3, 15], "nice": false, "zero": false},
          "axis": {"orient": "right", "values": [3,4,5,6,7,8,9,10,11,12,13,14,15], "labels": false, "tickSize": 5, "title": null}}}}
 ],
 "resolve": {"scale": {"x": "independent", "y": "independent"}, "axis": {"x": "independent", "y": "independent"}}
}
],
"spacing": 117,
"bounds": "flush"
}
